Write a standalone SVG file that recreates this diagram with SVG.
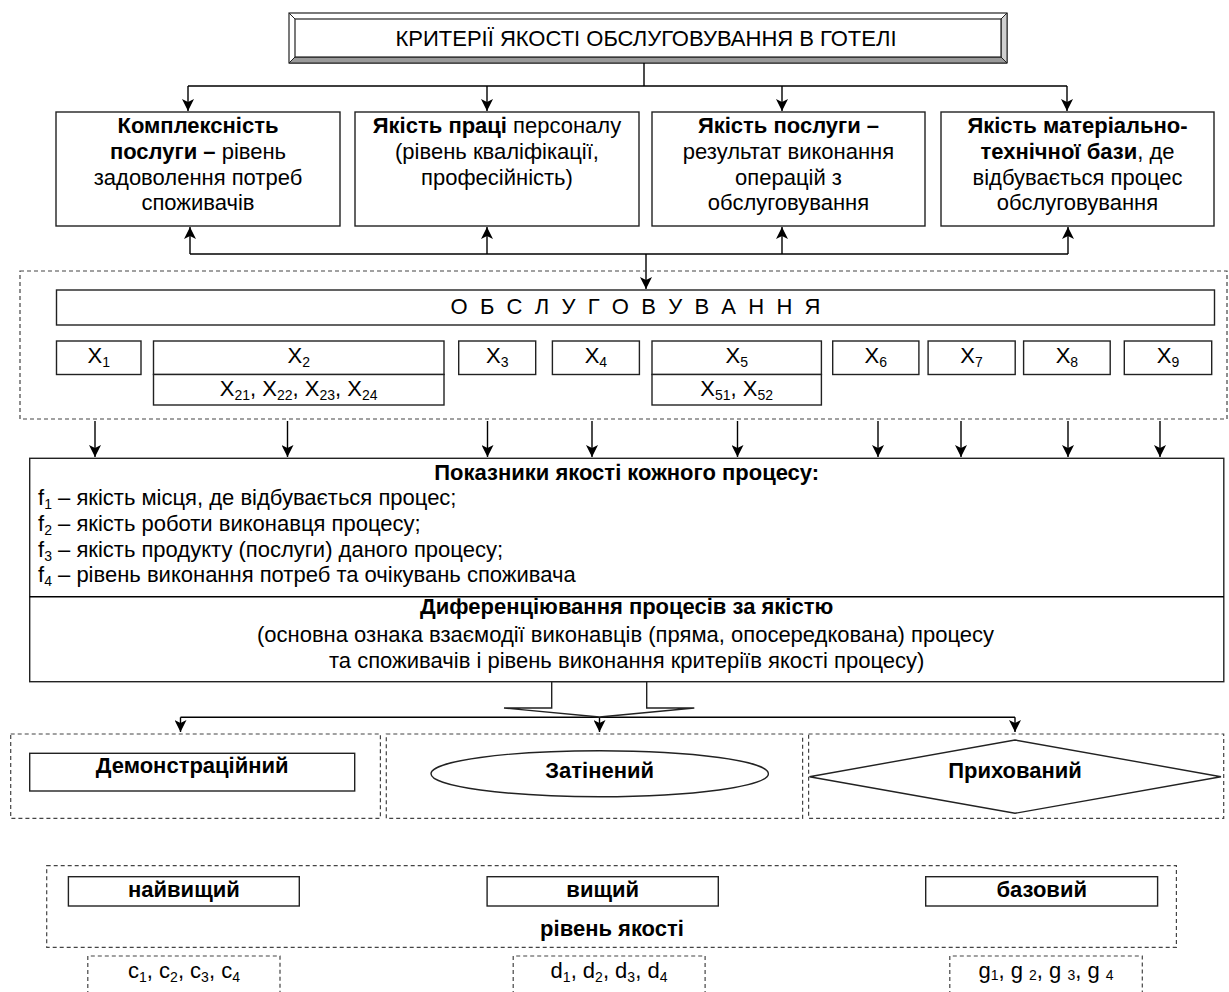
<svg xmlns="http://www.w3.org/2000/svg" width="1229" height="992" viewBox="0 0 1229 992">
<style>
.box{fill:#fff;stroke:#222;stroke-width:1.4}
.dash{fill:none;stroke:#444;stroke-width:1.2;stroke-dasharray:4 3}
.ln{fill:none;stroke:#000;stroke-width:1.4}
.t{font-family:"Liberation Sans",Arial,sans-serif;font-size:22px;fill:#000}
.c{text-anchor:middle}
.b{font-weight:bold}
.s{font-size:14px}
</style>
<defs>
<marker id="ah" markerUnits="userSpaceOnUse" markerWidth="12" markerHeight="12" viewBox="0 0 12 12" refX="12" refY="6" orient="auto">
<path d="M0,0 L12,6 L0,12 L3,6 Z" fill="#000"/>
</marker>
</defs>
<rect width="1229" height="992" fill="#fff"/>

<g id="title">
<rect x="289" y="13" width="718" height="50" fill="#fff" stroke="#222" stroke-width="1.2"/>
<polygon points="289,63 295,57 1001,57 1007,63" fill="#9a9a9a" stroke="#222" stroke-width="1"/>
<polygon points="1007,13 1001,19 1001,57 1007,63" fill="#d0d0d0" stroke="#222" stroke-width="1"/>
<rect x="295" y="19" width="706" height="38" fill="#fff" stroke="#222" stroke-width="1.2"/>
<line x1="289" y1="13" x2="295" y2="19" stroke="#222" stroke-width="1"/>
<text class="t c" x="646" y="46">КРИТЕРІЇ ЯКОСТІ ОБСЛУГОВУВАННЯ В ГОТЕЛІ</text>
</g>

<g id="connectors">
<path class="ln" d="M644,63 V86 M188,86 H1067"/>
<line class="ln" x1="188" y1="86" x2="188" y2="111" marker-end="url(#ah)"/>
<line class="ln" x1="487" y1="86" x2="487" y2="111" marker-end="url(#ah)"/>
<line class="ln" x1="782" y1="86" x2="782" y2="111" marker-end="url(#ah)"/>
<line class="ln" x1="1067" y1="86" x2="1067" y2="111" marker-end="url(#ah)"/>
<path class="ln" d="M190,254 H1068"/>
<line class="ln" x1="190" y1="254" x2="190" y2="227" marker-end="url(#ah)"/>
<line class="ln" x1="487" y1="254" x2="487" y2="227" marker-end="url(#ah)"/>
<line class="ln" x1="782" y1="254" x2="782" y2="227" marker-end="url(#ah)"/>
<line class="ln" x1="1068" y1="254" x2="1068" y2="227" marker-end="url(#ah)"/>
<line class="ln" x1="646" y1="254" x2="646" y2="289" marker-end="url(#ah)"/>
<line class="ln" x1="95" y1="421" x2="95" y2="457" marker-end="url(#ah)"/>
<line class="ln" x1="287.5" y1="421" x2="287.5" y2="457" marker-end="url(#ah)"/>
<line class="ln" x1="487.5" y1="421" x2="487.5" y2="457" marker-end="url(#ah)"/>
<line class="ln" x1="592" y1="421" x2="592" y2="457" marker-end="url(#ah)"/>
<line class="ln" x1="737.5" y1="421" x2="737.5" y2="457" marker-end="url(#ah)"/>
<line class="ln" x1="878" y1="421" x2="878" y2="457" marker-end="url(#ah)"/>
<line class="ln" x1="961" y1="421" x2="961" y2="457" marker-end="url(#ah)"/>
<line class="ln" x1="1068" y1="421" x2="1068" y2="457" marker-end="url(#ah)"/>
<line class="ln" x1="1160" y1="421" x2="1160" y2="457" marker-end="url(#ah)"/>
<path class="ln" d="M180.5,717.3 H1015"/>
<line class="ln" x1="180.5" y1="717.3" x2="180.5" y2="732" marker-end="url(#ah)"/>
<line class="ln" x1="599.5" y1="717.3" x2="599.5" y2="732" marker-end="url(#ah)"/>
<line class="ln" x1="1015" y1="717.3" x2="1015" y2="732" marker-end="url(#ah)"/>
</g>

<g id="box1">
<rect class="box" x="56" y="112" width="284" height="114"/>
<text class="t c b" x="198" y="133">Комплексність</text>
<text class="t c" x="198" y="159"><tspan class="b">послуги –</tspan> рівень</text>
<text class="t c" x="198" y="185">задоволення потреб</text>
<text class="t c" x="198" y="210">споживачів</text>
</g>
<g id="box2">
<rect class="box" x="355" y="112" width="284" height="114"/>
<text class="t c" x="497" y="133"><tspan class="b">Якість праці</tspan> персоналу</text>
<text class="t c" x="497" y="159">(рівень кваліфікації,</text>
<text class="t c" x="497" y="185">професійність)</text>
</g>
<g id="box3">
<rect class="box" x="652" y="112" width="273" height="114"/>
<text class="t c b" x="788.5" y="133">Якість послуги –</text>
<text class="t c" x="788.5" y="159">результат виконання</text>
<text class="t c" x="788.5" y="185">операцій з</text>
<text class="t c" x="788.5" y="210">обслуговування</text>
</g>
<g id="box4">
<rect class="box" x="941" y="112" width="273" height="114"/>
<text class="t c b" x="1077.5" y="133">Якість матеріально-</text>
<text class="t c" x="1077.5" y="159"><tspan class="b">технічної бази</tspan>, де</text>
<text class="t c" x="1077.5" y="185">відбувається процес</text>
<text class="t c" x="1077.5" y="210">обслуговування</text>
</g>

<g id="service-frame">
<rect class="dash" x="20" y="271" width="1207" height="148"/>
</g>
<g id="service">
<rect class="box" x="56.5" y="290" width="1158" height="35"/>
<text class="t c" x="635.5" y="314" textLength="370" lengthAdjust="spacing">О Б С Л У Г О В У В А Н Н Я</text>
</g>
<g id="x1"><rect class="box" x="56.5" y="341" width="84.5" height="33.5"/><text class="t c" x="98.8" y="363">X<tspan class="s" dy="4">1</tspan></text></g>
<g id="x2">
<rect class="box" x="153.5" y="341" width="290.5" height="33.5"/>
<rect class="box" x="153.5" y="374.5" width="290.5" height="30.5"/>
<text class="t c" x="298.7" y="363">X<tspan class="s" dy="4">2</tspan></text>
<text class="t c" x="298.7" y="396">X<tspan class="s" dy="4">21</tspan><tspan dy="-4">, X</tspan><tspan class="s" dy="4">22</tspan><tspan dy="-4">, X</tspan><tspan class="s" dy="4">23</tspan><tspan dy="-4">, X</tspan><tspan class="s" dy="4">24</tspan></text>
</g>
<g id="x3"><rect class="box" x="458.7" y="341" width="77" height="33.5"/><text class="t c" x="497.2" y="363">X<tspan class="s" dy="4">3</tspan></text></g>
<g id="x4"><rect class="box" x="552.4" y="341" width="87" height="33.5"/><text class="t c" x="595.9" y="363">X<tspan class="s" dy="4">4</tspan></text></g>
<g id="x5">
<rect class="box" x="652" y="341" width="169.4" height="33.5"/>
<rect class="box" x="652" y="374.5" width="169.4" height="30.5"/>
<text class="t c" x="736.7" y="363">X<tspan class="s" dy="4">5</tspan></text>
<text class="t c" x="736.7" y="396">X<tspan class="s" dy="4">51</tspan><tspan dy="-4">, X</tspan><tspan class="s" dy="4">52</tspan></text>
</g>
<g id="x6"><rect class="box" x="832.7" y="341" width="86.2" height="33.5"/><text class="t c" x="875.8" y="363">X<tspan class="s" dy="4">6</tspan></text></g>
<g id="x7"><rect class="box" x="928.1" y="341" width="87.1" height="33.5"/><text class="t c" x="971.6" y="363">X<tspan class="s" dy="4">7</tspan></text></g>
<g id="x8"><rect class="box" x="1023.6" y="341" width="86.6" height="33.5"/><text class="t c" x="1066.9" y="363">X<tspan class="s" dy="4">8</tspan></text></g>
<g id="x9"><rect class="box" x="1124.3" y="341" width="87.4" height="33.5"/><text class="t c" x="1168" y="363">X<tspan class="s" dy="4">9</tspan></text></g>

<g id="indicators">
<rect class="box" x="29.7" y="458.3" width="1194.1" height="223.4"/>
<line class="ln" x1="29.7" y1="596.7" x2="1223.8" y2="596.7" stroke="#222"/>
<text class="t c b" x="626.7" y="480">Показники якості кожного процесу:</text>
<text class="t" x="38" y="505">f<tspan class="s" dy="4">1</tspan><tspan dy="-4"> – якість місця, де відбувається процес;</tspan></text>
<text class="t" x="38" y="531">f<tspan class="s" dy="4">2</tspan><tspan dy="-4"> – якість роботи виконавця процесу;</tspan></text>
<text class="t" x="38" y="556.5">f<tspan class="s" dy="4">3</tspan><tspan dy="-4"> – якість продукту (послуги) даного процесу;</tspan></text>
<text class="t" x="38" y="582">f<tspan class="s" dy="4">4</tspan><tspan dy="-4"> – рівень виконання потреб та очікувань споживача</tspan></text>
<text class="t c b" x="626.7" y="614">Диференціювання процесів за якістю</text>
<text class="t c" x="625.5" y="641.5">(основна ознака взаємодії виконавців (пряма, опосередкована) процесу</text>
<text class="t c" x="626.7" y="668">та споживачів і рівень виконання критеріїв якості процесу)</text>
</g>

<g id="block-arrow">
<polygon points="551.7,681.7 551.7,708 504,708 599.5,717 694.3,708 646.7,708 646.7,681.7" fill="#fff" stroke="#222" stroke-width="1.4"/>
</g>

<g id="demo">
<rect class="dash" x="10.7" y="734" width="369.7" height="84.3"/>
<rect class="box" x="29.7" y="753.3" width="325" height="37.7"/>
<text class="t c b" x="192.2" y="773">Демонстраційний</text>
</g>
<g id="shaded">
<rect class="dash" x="386.3" y="734" width="416.3" height="84.3"/>
<ellipse class="box" cx="599.7" cy="773.7" rx="168.7" ry="23"/>
<text class="t c b" x="599.7" y="778">Затінений</text>
</g>
<g id="hidden">
<rect class="dash" x="808.6" y="734" width="415.1" height="84.3"/>
<polygon class="box" points="809.4,776.7 1015,740 1221,776.7 1015,813.3"/>
<text class="t c b" x="1015" y="778">Прихований</text>
</g>

<g id="levels">
<rect class="dash" x="46.7" y="865.7" width="1129.7" height="81.6"/>
<text class="t c b" x="612" y="936">рівень якості</text>
</g>
<g id="highest"><rect class="box" x="68.4" y="876.7" width="230.9" height="29.3"/><text class="t c b" x="183.9" y="897">найвищий</text></g>
<g id="higher"><rect class="box" x="487.1" y="876.7" width="231.2" height="29.3"/><text class="t c b" x="602.7" y="897">вищий</text></g>
<g id="basic"><rect class="box" x="925.7" y="876.7" width="231.9" height="29.3"/><text class="t c b" x="1041.7" y="897">базовий</text></g>

<g id="c-set">
<path class="dash" d="M87.8,995 V956 H280 V995"/>
<text class="t c" x="184" y="978">c<tspan class="s" dy="4">1</tspan><tspan dy="-4">, c</tspan><tspan class="s" dy="4">2</tspan><tspan dy="-4">, c</tspan><tspan class="s" dy="4">3</tspan><tspan dy="-4">, c</tspan><tspan class="s" dy="4">4</tspan></text>
</g>
<g id="d-set">
<path class="dash" d="M513.2,995 V956 H705.1 V995"/>
<text class="t c" x="609" y="978">d<tspan class="s" dy="4">1</tspan><tspan dy="-4">, d</tspan><tspan class="s" dy="4">2</tspan><tspan dy="-4">, d</tspan><tspan class="s" dy="4">3</tspan><tspan dy="-4">, d</tspan><tspan class="s" dy="4">4</tspan></text>
</g>
<g id="g-set">
<path class="dash" d="M949.8,995 V956 H1142.3 V995"/>
<text class="t c" x="1046" y="978">g<tspan class="s" dy="2">1</tspan><tspan dy="-2">, g </tspan><tspan class="s" dy="2">2</tspan><tspan dy="-2">, g </tspan><tspan class="s" dy="2">3</tspan><tspan dy="-2">, g </tspan><tspan class="s" dy="2">4</tspan></text>
</g>
</svg>
